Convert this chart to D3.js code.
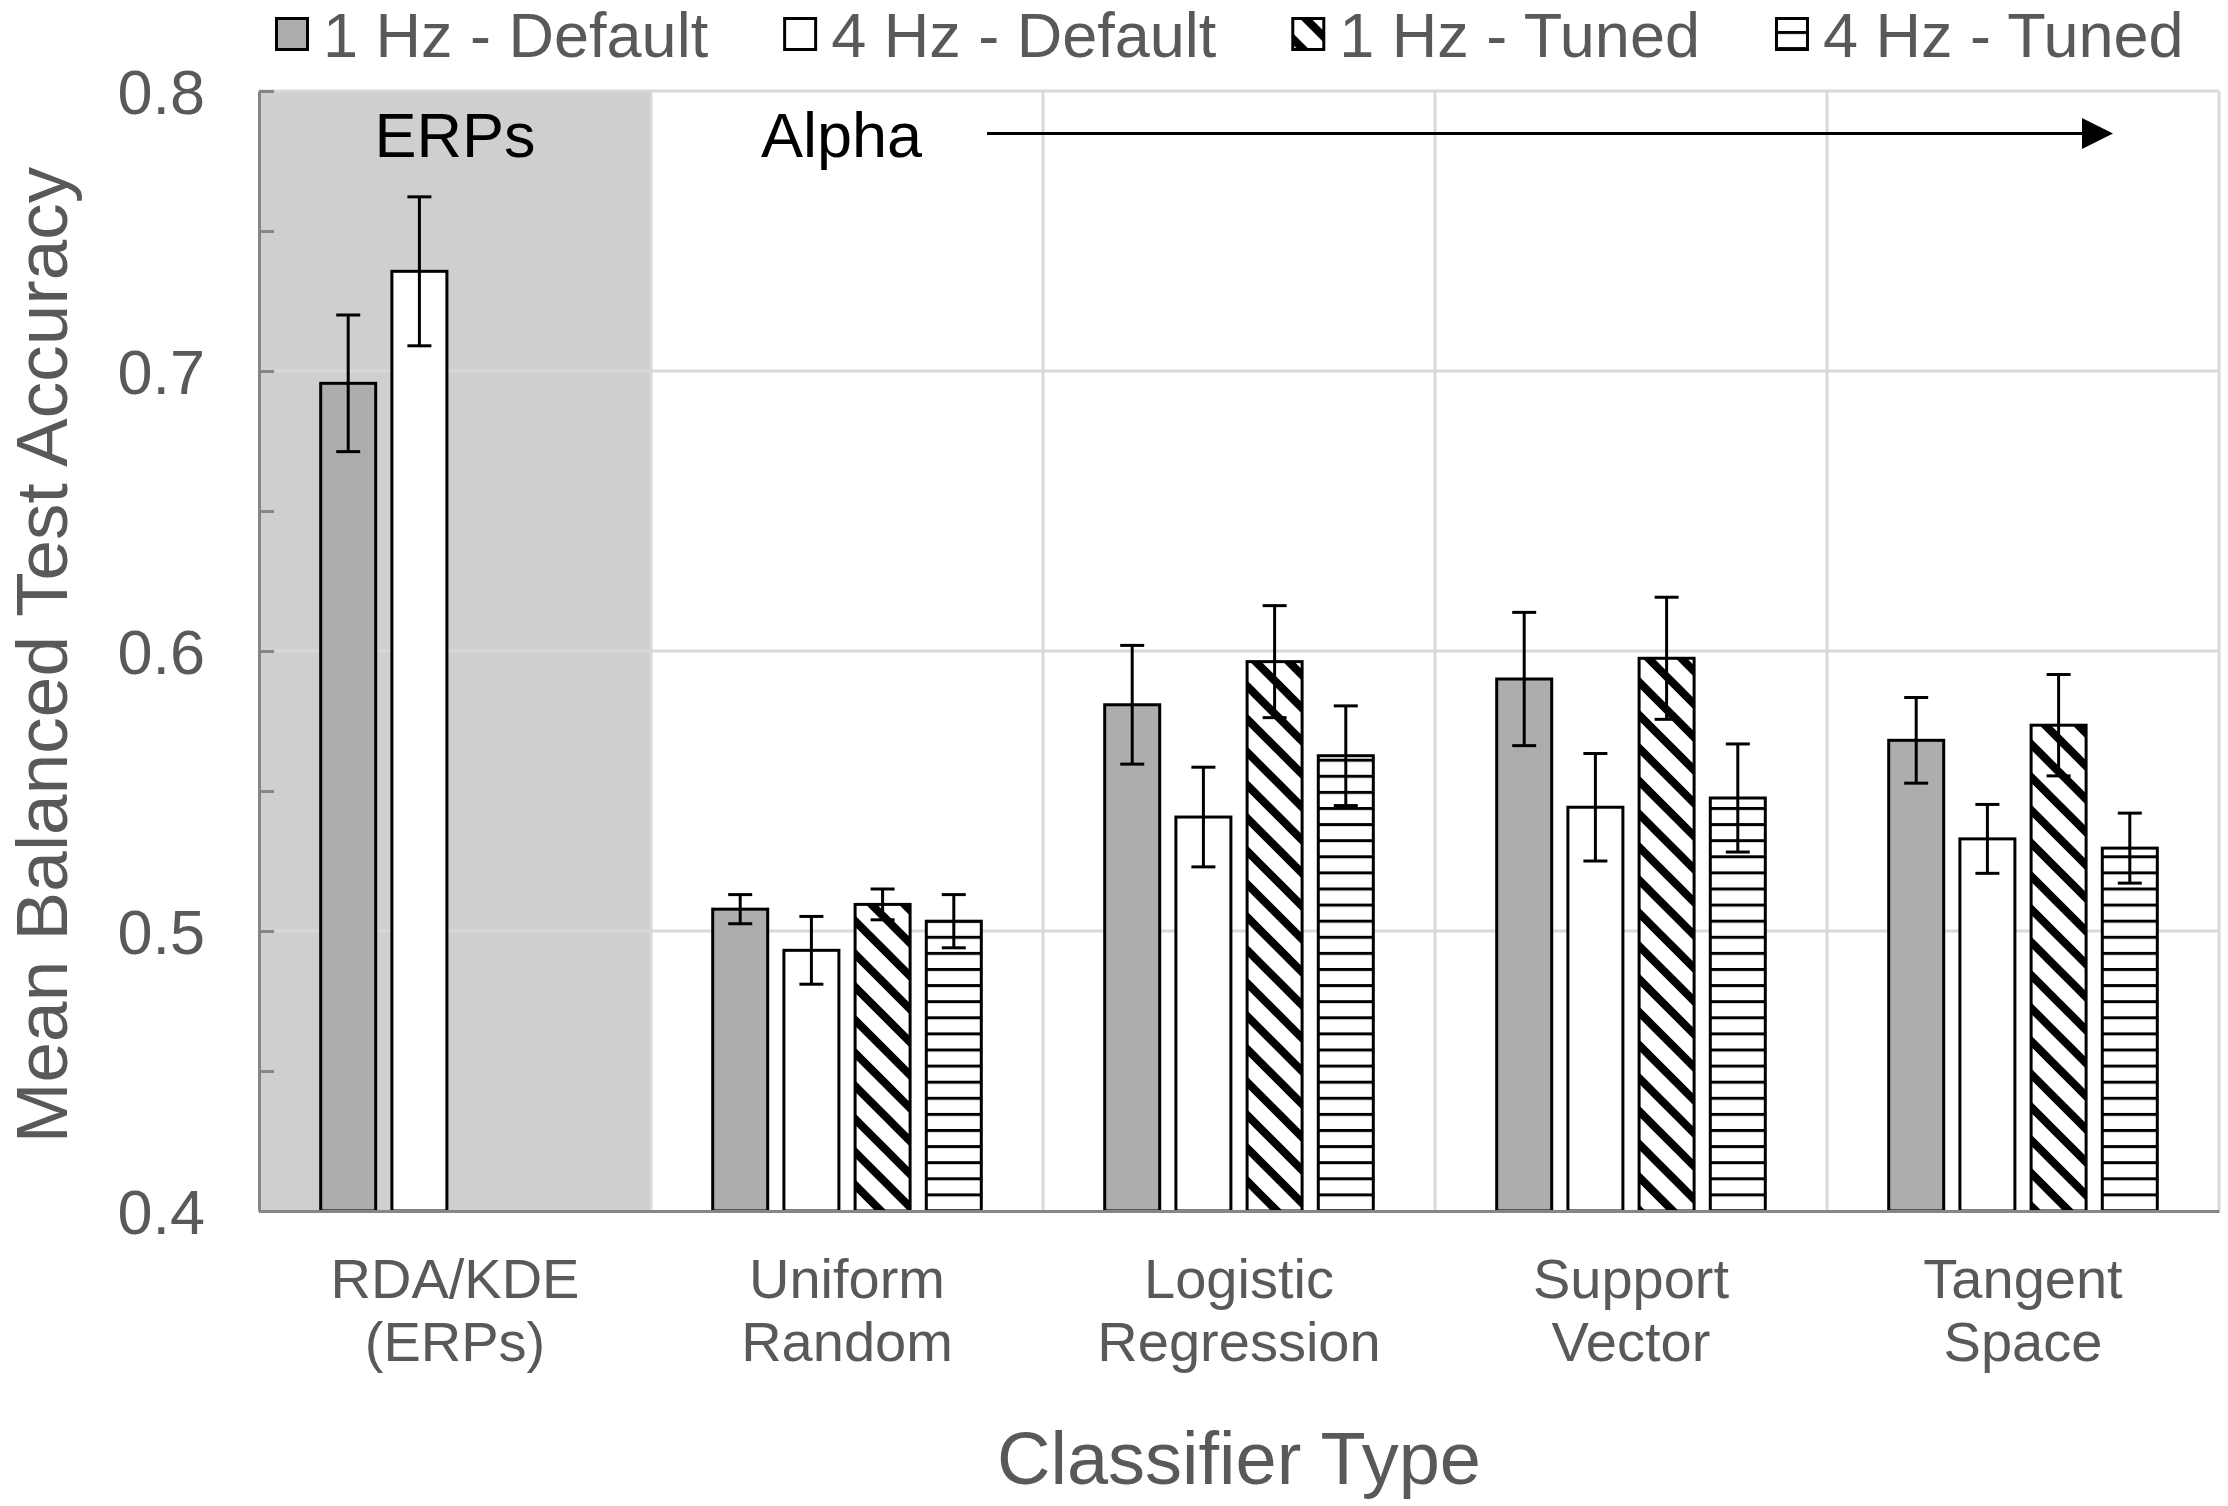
<!DOCTYPE html>
<html>
<head>
<meta charset="utf-8">
<script src="https://cdn.jsdelivr.net/npm/d3@7"></script>
<style>
  html, body { margin: 0; padding: 0; background: #ffffff; }
  svg { display: block; }
  text { font-family: "Liberation Sans", Arial, Helvetica, sans-serif; }
</style>
</head>
<body>
<svg id="chart" width="2228" height="1506"></svg>
<script>
// ---------------- data ----------------
const categories = ["RDA/KDE", "Uniform", "Logistic", "Support", "Tangent"];
const categoryLine1 = ["RDA/KDE", "Uniform", "Logistic", "Support", "Tangent"];
const categoryLine2 = ["(ERPs)", "Random", "Regression", "Vector", "Space"];
const seriesNames = ["1 Hz - Default", "4 Hz - Default", "1 Hz - Tuned", "4 Hz - Tuned"];

const hz1Default = [0.6956, 0.5078, 0.5808, 0.5900, 0.5681];
const hz4Default = [0.7356, 0.4931, 0.5407, 0.5442, 0.5329];
const hz1Tuned   = [null,   0.5095, 0.5962, 0.5974, 0.5735];
const hz4Tuned   = [null,   0.5035, 0.5626, 0.5475, 0.5296];

const hz1DefaultErr = [0.0244, 0.0052, 0.0212, 0.0238, 0.0153];
const hz4DefaultErr = [0.0266, 0.0121, 0.0178, 0.0192, 0.0123];
const hz1TunedErr   = [null,   0.0055, 0.0200, 0.0218, 0.0181];
const hz4TunedErr   = [null,   0.0095, 0.0178, 0.0193, 0.0125];

const yTicks = [0.4, 0.45, 0.5, 0.55, 0.6, 0.65, 0.7, 0.75, 0.8];
const yGrid = [0.5, 0.6, 0.7, 0.8];
const yLabel = "Mean Balanced Test Accuracy";
const xLabel = "Classifier Type";
const shadedLabel = "ERPs";
const alphaLabel = "Alpha";

// ---------------- build table ----------------
const seriesValues = [hz1Default, hz4Default, hz1Tuned, hz4Tuned];
const seriesErrors = [hz1DefaultErr, hz4DefaultErr, hz1TunedErr, hz4TunedErr];
const table = [];
categories.forEach((c, ci) => {
  seriesNames.forEach((s, si) => {
    const v = seriesValues[si][ci];
    if (v !== null) table.push({cat: c, series: s, si, value: v, err: seriesErrors[si][ci]});
  });
});

// ---------------- layout ----------------
const svg = d3.select("#chart");
const plot = {left: 259, right: 2219, top: 91, bottom: 1211};
const textGrey = "#595959";
const gridColor = "#d9d9d9";
const axisColor = "#868686";
const greyFill = "#aeacac";

const y = d3.scaleLinear().domain([0.4, 0.8]).range([plot.bottom, plot.top]);
const x0 = d3.scaleBand().domain(categories).range([plot.left, plot.right]).padding(0);
const x1 = d3.scaleBand().domain(seriesNames).range([0, x0.bandwidth()])
  .paddingInner(0.2275).paddingOuter(0.8666);

// ---------------- patterns ----------------
const defs = svg.append("defs");
const P = 33;
function diagPattern(id, dx, dy) {
  const p = defs.append("pattern").attr("id", id)
    .attr("patternUnits", "userSpaceOnUse").attr("width", P).attr("height", P)
    .attr("patternTransform", `translate(${dx},${dy})`);
  p.append("rect").attr("width", P).attr("height", P).attr("fill", "#fff");
  p.append("path")
    .attr("d", `M${-P/2},${-P/2}L${1.5*P},${1.5*P}M${-P/2},${P/2}L${P/2},${1.5*P}M${P/2},${-P/2}L${1.5*P},${P/2}`)
    .attr("stroke", "#000").attr("stroke-width", 8);
}
const H = 16.1;
function horizPattern(id, dy) {
  const p = defs.append("pattern").attr("id", id)
    .attr("patternUnits", "userSpaceOnUse").attr("width", 40).attr("height", H)
    .attr("patternTransform", `translate(0,${dy})`);
  p.append("rect").attr("width", 40).attr("height", H).attr("fill", "#fff");
  p.append("rect").attr("x", 0).attr("y", 0).attr("width", 40).attr("height", 3).attr("fill", "#000");
}
diagPattern("diag", 0, 0);
horizPattern("horiz", plot.bottom - 1.5);
diagPattern("diagLegend", 0, 0);
horizPattern("horizLegend", 31);

const fills = [greyFill, "#ffffff", "url(#diag)", "url(#horiz)"];
const legendFills = [greyFill, "#ffffff", "url(#diagLegend)", "url(#horizLegend)"];

// ---------------- shaded ERP region ----------------
svg.append("rect")
  .attr("x", x0(categories[0])).attr("y", plot.top)
  .attr("width", x0.bandwidth()).attr("height", plot.bottom - plot.top)
  .attr("fill", "#d0cfd0");

// ---------------- gridlines ----------------
svg.append("g").selectAll("line").data(yGrid).join("line")
  .attr("x1", plot.left).attr("x2", plot.right)
  .attr("y1", d => y(d)).attr("y2", d => y(d))
  .attr("stroke", gridColor).attr("stroke-width", 3);
svg.append("g").selectAll("line").data(categories).join("line")
  .attr("x1", d => x0(d) + x0.bandwidth()).attr("x2", d => x0(d) + x0.bandwidth())
  .attr("y1", plot.top).attr("y2", plot.bottom)
  .attr("stroke", gridColor).attr("stroke-width", 3);

// ---------------- bars ----------------
const barG = svg.append("g");
barG.selectAll("rect").data(table).join("rect")
  .attr("x", d => x0(d.cat) + x1(d.series))
  .attr("y", d => y(d.value))
  .attr("width", x1.bandwidth())
  .attr("height", d => y(0.4) - y(d.value))
  .attr("fill", d => fills[d.si])
  .attr("stroke", "#000").attr("stroke-width", 3);

// ---------------- error bars ----------------
const errG = svg.append("g").attr("stroke", "#000").attr("stroke-width", 3);
const capW = 12;
table.forEach(d => {
  const cx = x0(d.cat) + x1(d.series) + x1.bandwidth() / 2;
  errG.append("line").attr("x1", cx).attr("x2", cx)
    .attr("y1", y(d.value + d.err)).attr("y2", y(d.value - d.err));
  errG.append("line").attr("x1", cx - capW).attr("x2", cx + capW)
    .attr("y1", y(d.value + d.err)).attr("y2", y(d.value + d.err));
  errG.append("line").attr("x1", cx - capW).attr("x2", cx + capW)
    .attr("y1", y(d.value - d.err)).attr("y2", y(d.value - d.err));
});

// ---------------- axes ----------------
const yAxis = d3.axisLeft(y).tickValues(yTicks)
  .tickSize(-15).tickSizeOuter(0).tickPadding(54)
  .tickFormat(d => (Math.round(d * 100) % 10 === 0) ? d3.format(".1f")(d) : "");
const yg = svg.append("g").attr("transform", `translate(${plot.left},0)`).call(yAxis);
yg.select(".domain").attr("stroke", axisColor).attr("stroke-width", 3);
yg.selectAll(".tick line").attr("stroke", axisColor).attr("stroke-width", 3);
yg.selectAll(".tick text").attr("fill", textGrey)
  .style("font-size", "63px").style("font-family", '"Liberation Sans", Arial, sans-serif')
  .attr("dy", "0.36em");

const xAxis = d3.axisBottom(x0).tickSize(0).tickSizeOuter(0).tickFormat("");
const xg = svg.append("g").attr("transform", `translate(0,${plot.bottom})`).call(xAxis);
xg.select(".domain").attr("stroke", axisColor).attr("stroke-width", 3);

const catG = svg.append("g").attr("fill", textGrey).style("font-size", "56px").attr("text-anchor", "middle");
categories.forEach((c, i) => {
  const cx = x0(c) + x0.bandwidth() / 2;
  catG.append("text").attr("x", cx).attr("y", 1298).text(categoryLine1[i]);
  catG.append("text").attr("x", cx).attr("y", 1361).text(categoryLine2[i]);
});

// axis titles
svg.append("text").attr("x", (plot.left + plot.right) / 2).attr("y", 1484)
  .attr("text-anchor", "middle").attr("fill", textGrey).style("font-size", "74px").text(xLabel);
svg.append("text").attr("transform", `translate(67,${(plot.top + plot.bottom) / 2 + 4}) rotate(-90)`)
  .attr("text-anchor", "middle").attr("fill", textGrey).style("font-size", "73px").text(yLabel);

// ---------------- annotations ----------------
svg.append("text").attr("x", x0(categories[0]) + x0.bandwidth() / 2).attr("y", 157)
  .attr("text-anchor", "middle").attr("fill", "#000").style("font-size", "63px").text(shadedLabel);
svg.append("text").attr("x", 761).attr("y", 157)
  .attr("text-anchor", "start").attr("fill", "#000").style("font-size", "63px").text(alphaLabel);
svg.append("line").attr("x1", 987).attr("x2", 2084).attr("y1", 133.5).attr("y2", 133.5)
  .attr("stroke", "#000").attr("stroke-width", 3);
svg.append("path").attr("d", "M2082,118L2113,133.5L2082,149Z").attr("fill", "#000");

// ---------------- legend ----------------
const legG = svg.append("g");
let lx = 275;
seriesNames.forEach((s, i) => {
  legG.append("rect").attr("x", lx + 1.5).attr("y", 18.5).attr("width", 31).attr("height", 31)
    .attr("fill", legendFills[i]).attr("stroke", "#000").attr("stroke-width", 3);
  const t = legG.append("text").attr("x", lx + 48).attr("y", 57)
    .attr("fill", textGrey).style("font-size", "63px").text(s);
  const w = t.node().getComputedTextLength();
  lx = lx + 48 + w + 75;
});
</script>
</body>
</html>
